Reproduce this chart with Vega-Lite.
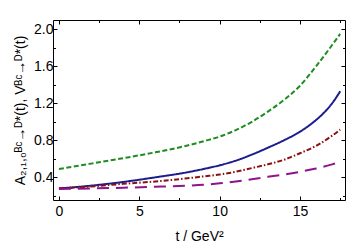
{
  "$schema": "https://vega.github.io/schema/vega-lite/v6.json",
  "autosize": {"type": "none"},
  "width": 292,
  "height": 180,
  "padding": {"left": 53, "top": 20, "right": 4, "bottom": 47},
  "background": "white",
  "config": {
    "view": {"stroke": "black", "strokeWidth": 1},
    "axis": {"labelFont": "Liberation Sans", "titleFont": "Liberation Sans", "labelFontSize": 14, "titleFontSize": 14, "titleFontWeight": "normal", "labelColor": "black", "titleColor": "black", "domain": false, "grid": false, "tickColor": "black"}
  },
  "data": {"values": [
    {"t": 0, "v": 0.49, "s": "g"}, {"t": 2, "v": 0.548, "s": "g"}, {"t": 4, "v": 0.607, "s": "g"}, {"t": 6, "v": 0.67, "s": "g"}, {"t": 8, "v": 0.744, "s": "g"}, {"t": 9, "v": 0.79, "s": "g"}, {"t": 10, "v": 0.84, "s": "g"}, {"t": 11, "v": 0.91, "s": "g"}, {"t": 12, "v": 1.0, "s": "g"}, {"t": 13, "v": 1.11, "s": "g"}, {"t": 14, "v": 1.235, "s": "g"}, {"t": 15, "v": 1.39, "s": "g"}, {"t": 16, "v": 1.60, "s": "g"}, {"t": 17, "v": 1.83, "s": "g"}, {"t": 17.5, "v": 1.95, "s": "g"},
    {"t": 0, "v": 0.28, "s": "b"}, {"t": 2, "v": 0.31, "s": "b"}, {"t": 4, "v": 0.35, "s": "b"}, {"t": 6, "v": 0.40, "s": "b"}, {"t": 8, "v": 0.455, "s": "b"}, {"t": 9, "v": 0.49, "s": "b"}, {"t": 10, "v": 0.53, "s": "b"}, {"t": 11, "v": 0.58, "s": "b"}, {"t": 12, "v": 0.645, "s": "b"}, {"t": 13, "v": 0.72, "s": "b"}, {"t": 14, "v": 0.80, "s": "b"}, {"t": 15, "v": 0.893, "s": "b"}, {"t": 16, "v": 1.02, "s": "b"}, {"t": 16.5, "v": 1.10, "s": "b"}, {"t": 17, "v": 1.20, "s": "b"}, {"t": 17.5, "v": 1.33, "s": "b"},
    {"t": 0, "v": 0.28, "s": "r"}, {"t": 2, "v": 0.30, "s": "r"}, {"t": 4, "v": 0.33, "s": "r"}, {"t": 6, "v": 0.355, "s": "r"}, {"t": 8, "v": 0.39, "s": "r"}, {"t": 9, "v": 0.41, "s": "r"}, {"t": 10, "v": 0.43, "s": "r"}, {"t": 11, "v": 0.46, "s": "r"}, {"t": 12, "v": 0.50, "s": "r"}, {"t": 13, "v": 0.54, "s": "r"}, {"t": 14, "v": 0.59, "s": "r"}, {"t": 15, "v": 0.66, "s": "r"}, {"t": 16, "v": 0.74, "s": "r"}, {"t": 17, "v": 0.85, "s": "r"}, {"t": 17.5, "v": 0.915, "s": "r"},
    {"t": 0, "v": 0.275, "s": "p"}, {"t": 2, "v": 0.28, "s": "p"}, {"t": 4, "v": 0.288, "s": "p"}, {"t": 6, "v": 0.298, "s": "p"}, {"t": 8, "v": 0.31, "s": "p"}, {"t": 9, "v": 0.32, "s": "p"}, {"t": 10, "v": 0.335, "s": "p"}, {"t": 11, "v": 0.355, "s": "p"}, {"t": 12, "v": 0.38, "s": "p"}, {"t": 13, "v": 0.405, "s": "p"}, {"t": 14, "v": 0.43, "s": "p"}, {"t": 15, "v": 0.46, "s": "p"}, {"t": 16, "v": 0.495, "s": "p"}, {"t": 17, "v": 0.54, "s": "p"}, {"t": 17.5, "v": 0.565, "s": "p"}
  ]},
  "layer": [
    {
      "mark": {"type": "line", "strokeWidth": 2, "interpolate": "monotone", "clip": true},
      "encoding": {
        "x": {"field": "t", "type": "quantitative", "scale": {"domain": [-0.37, 17.8], "nice": false, "zero": false},
          "axis": {"orient": "bottom", "title": "t / GeV²", "titlePadding": 11, "values": [0, 2.5, 5, 7.5, 10, 12.5, 15, 17.5],
            "labelExpr": "datum.value % 5 == 0 ? datum.label : ''", "tickSize": {"condition": {"test": "datum.value % 5 == 0", "value": -4}, "value": -2.5}, "labelPadding": 8}},
        "y": {"field": "v", "type": "quantitative", "scale": {"domain": [0.155, 2.1], "nice": false, "zero": false},
          "axis": {"orient": "left", "title": "A₂,₁,₀ᴮᶜ→ᴰ*(t), Vᴮᶜ→ᴰ*(t)", "titlePadding": 6, "values": [0.2, 0.4, 0.6, 0.8, 1.0, 1.2, 1.4, 1.6, 1.8, 2.0],
            "labelExpr": "round(datum.value * 10) % 4 == 0 ? format(datum.value, '.1f') : ''", "tickSize": {"condition": {"test": "round(datum.value * 10) % 4 == 0", "value": -4}, "value": -2.5}, "labelPadding": 4}},
        "color": {"field": "s", "type": "nominal", "legend": null, "scale": {"domain": ["g", "b", "r", "p"], "range": ["#1e8c1e", "#1c1c8c", "#8c1010", "#8c148c"]}},
        "strokeDash": {"field": "s", "type": "nominal", "legend": null, "scale": {"domain": ["g", "b", "r", "p"], "range": [[5, 2.5], [1, 0], [5, 2, 1.5, 2], [12, 7]]}}
      }
    },
    {
      "mark": {"type": "line", "opacity": 0},
      "encoding": {
        "x": {"field": "t", "type": "quantitative", "axis": {"orient": "top", "title": null, "labels": false, "values": [0, 2.5, 5, 7.5, 10, 12.5, 15, 17.5], "tickSize": {"condition": {"test": "datum.value % 5 == 0", "value": -4}, "value": -2.5}}},
        "y": {"field": "v", "type": "quantitative", "axis": {"orient": "right", "title": null, "labels": false, "values": [0.2, 0.4, 0.6, 0.8, 1.0, 1.2, 1.4, 1.6, 1.8, 2.0], "tickSize": {"condition": {"test": "round(datum.value * 10) % 4 == 0", "value": -4}, "value": -2.5}}},
        "detail": {"field": "s", "type": "nominal"}
      }
    }
  ],
  "resolve": {"axis": {"x": "independent", "y": "independent"}}
}
